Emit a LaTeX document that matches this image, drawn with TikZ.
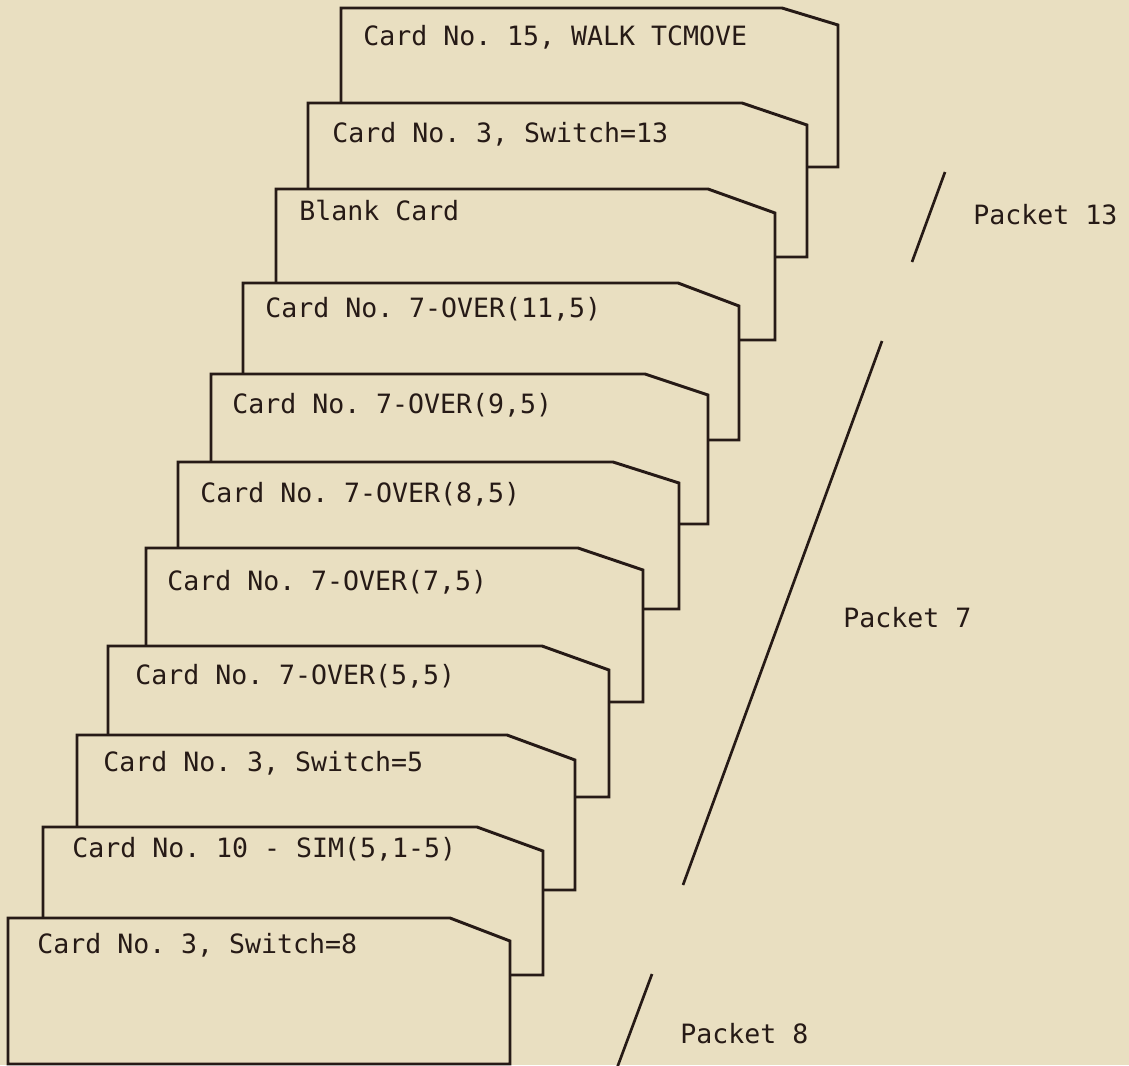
\documentclass[tikz,border=0pt]{standalone}
\usepackage{fontspec}
\setmonofont{DejaVu Sans Mono}
\definecolor{paper}{RGB}{233,223,193}
\definecolor{ink}{RGB}{38,26,22}
\tikzset{
  card/.style={draw=ink, fill=paper, line width=2.1pt, line join=miter},
  cardtext/.style={anchor=base west, inner sep=0pt, text=ink,
                   font=\ttfamily\fontsize{18.9}{22}\selectfont},
  slash/.style={draw=ink, line width=1.9pt},
  packet/.style={cardtext},
}

\begin{document}
\begin{tikzpicture}[x=0.25mm,y=-0.25mm]
  \fill[paper] (0,0) rectangle (1129,1065);
  \path[use as bounding box] (0,0) rectangle (1129,1065);

  % the deck, back card first
  \draw[card] (341,167) -- (341,8) -- (782,8) -- (838,25) -- (838,167) -- cycle;
  \node[cardtext] (walk) at (363,45) {Card No. 15, WALK TCMOVE};

  \draw[card] (308,257) -- (308,103) -- (742,103) -- (807,125) -- (807,257) -- cycle;
  \node[cardtext] (swA) at (332,142) {Card No. 3, Switch=13};

  \draw[card] (276,340) -- (276,189) -- (708,189) -- (775,213) -- (775,340) -- cycle;
  \node[cardtext] (blank) at (299,220) {Blank Card};

  \draw[card] (243,440) -- (243,283) -- (678,283) -- (739,306) -- (739,440) -- cycle;
  \node[cardtext] (overA) at (265,317) {Card No. 7-OVER(11,5)};

  \draw[card] (211,524) -- (211,374) -- (645,374) -- (708,395) -- (708,524) -- cycle;
  \node[cardtext] (overB) at (232,413) {Card No. 7-OVER(9,5)};

  \draw[card] (178,609) -- (178,462) -- (613,462) -- (679,483) -- (679,609) -- cycle;
  \node[cardtext] (overC) at (200,502) {Card No. 7-OVER(8,5)};

  \draw[card] (146,702) -- (146,548) -- (578,548) -- (643,570) -- (643,702) -- cycle;
  \node[cardtext] (overD) at (167,590) {Card No. 7-OVER(7,5)};

  \draw[card] (108,797) -- (108,646) -- (542,646) -- (609,670) -- (609,797) -- cycle;
  \node[cardtext] (overE) at (135,684) {Card No. 7-OVER(5,5)};

  \draw[card] (77,890) -- (77,735) -- (507,735) -- (575,760) -- (575,890) -- cycle;
  \node[cardtext] (swB) at (103,771) {Card No. 3, Switch=5};

  \draw[card] (43,975) -- (43,827) -- (477,827) -- (543,851) -- (543,975) -- cycle;
  \node[cardtext] (sim) at (72,857) {Card No. 10 - SIM(5,1-5)};

  \draw[card] (8,1064) -- (8,918) -- (450,918) -- (510,941) -- (510,1064) -- cycle;
  \node[cardtext] (swC) at (37,953) {Card No. 3, Switch=8};

  % packet marks
  \draw[slash] (945,172) -- (912,262);
  \node[packet] (pkA) at (973,224) {Packet 13};
  \draw[slash] (882,341) -- (683,885);
  \node[packet] (pkB) at (843,627) {Packet 7};
  \draw[slash] (652,974) -- (617,1068);
  \node[packet] (pkC) at (680,1043) {Packet 8};
\end{tikzpicture}
\end{document}
